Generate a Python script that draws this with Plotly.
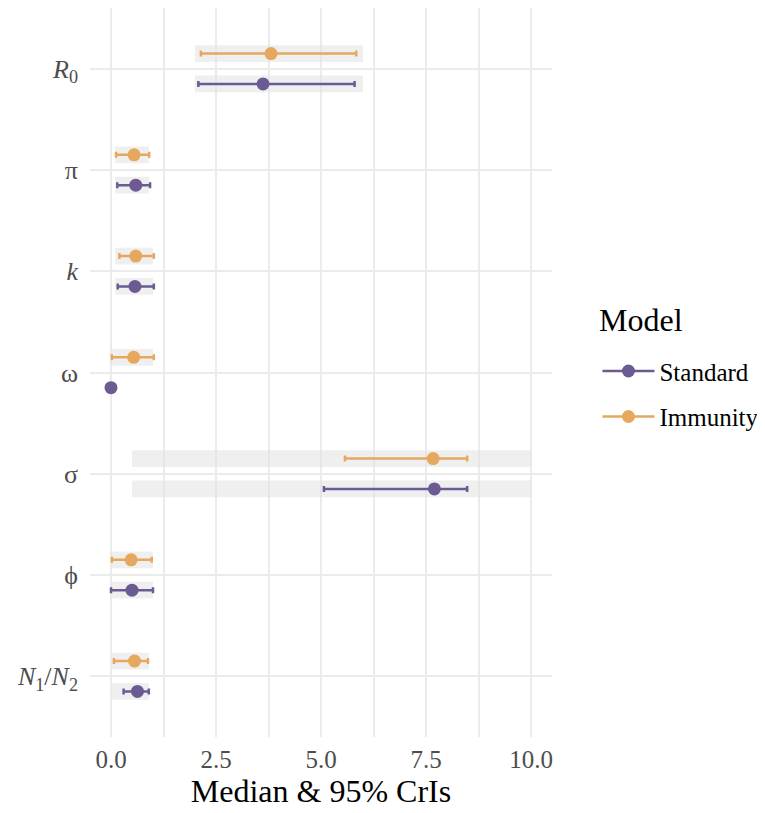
import plotly.graph_objects as go

# ---- data ----
params = ["<i>R</i><sub>0</sub>", "π", "<i>k</i>", "ω", "σ", "ϕ",
          "<i>N</i><sub>1</sub>/<i>N</i><sub>2</sub>"]
models = ["Standard", "Immunity"]

std_med = [3.62, 0.59, 0.57, 0.00, 7.70, 0.50, 0.63]
std_lo  = [2.08, 0.15, 0.16, 0.00, 5.07, 0.00, 0.30]
std_hi  = [5.80, 0.93, 1.02, 0.00, 8.48, 1.00, 0.90]

imm_med = [3.81, 0.55, 0.59, 0.54, 7.67, 0.48, 0.56]
imm_lo  = [2.14, 0.12, 0.20, 0.02, 5.57, 0.02, 0.07]
imm_hi  = [5.84, 0.91, 1.02, 1.02, 8.48, 0.97, 0.88]

# prior ranges (grey bands)
std_prior_lo = [2.0, 0.1, 0.1, None, 0.5, 0.0, 0.02]
std_prior_hi = [6.0, 0.9, 1.0, None, 10.0, 1.0, 0.9]
imm_prior_lo = [2.0, 0.1, 0.1, 0.0, 0.5, 0.0, 0.02]
imm_prior_hi = [6.0, 0.9, 1.0, 1.0, 10.0, 1.0, 0.9]

x_ticks = [0.0, 2.5, 5.0, 7.5, 10.0]
x_tick_labels = ["0.0", "2.5", "5.0", "7.5", "10.0"]

# ---- style ----
COL = {"Standard": "#6B5B92", "Immunity": "#E6A85E"}
FONT = "Liberation Serif"
n = len(params)
ypos = [n - i for i in range(n)]
dodge = {"Standard": -0.15, "Immunity": 0.15}

fig = go.Figure()

# grey prior bands
for m, plo, phi in [("Immunity", imm_prior_lo, imm_prior_hi),
                    ("Standard", std_prior_lo, std_prior_hi)]:
    ys, bases, widths = [], [], []
    for i in range(n):
        if plo[i] is None:
            continue
        ys.append(ypos[i] + dodge[m])
        bases.append(plo[i])
        widths.append(phi[i] - plo[i])
    fig.add_trace(go.Bar(
        y=ys, x=widths, base=bases, orientation="h", width=0.165,
        marker=dict(color="rgba(225,225,225,0.55)", line=dict(width=0)),
        showlegend=False, hoverinfo="skip"))

# estimates with CrIs
for m, med, lo, hi in [("Immunity", imm_med, imm_lo, imm_hi),
                       ("Standard", std_med, std_lo, std_hi)]:
    fig.add_trace(go.Scatter(
        x=med, y=[p + dodge[m] for p in ypos], mode="markers",
        marker=dict(color=COL[m], size=13),
        error_x=dict(type="data", symmetric=False,
                     array=[h - md for h, md in zip(hi, med)],
                     arrayminus=[md - l for md, l in zip(med, lo)],
                     color=COL[m], thickness=2.5, width=3),
        showlegend=False))

# legend entries
for m in models:
    fig.add_trace(go.Scatter(
        x=[None], y=[None], mode="lines+markers", name=m,
        line=dict(color=COL[m], width=2.5),
        marker=dict(color=COL[m], size=13),
        legendgroup=m))

fig.update_layout(
    width=757, height=805,
    margin=dict(l=82, r=211, t=0, b=76, pad=0),
    paper_bgcolor="white", plot_bgcolor="white",
    barmode="overlay",
    font=dict(family=FONT, color="#4D4D4D"),
    xaxis=dict(range=[-0.5, 10.5], tickvals=x_ticks, ticktext=x_tick_labels,
               automargin=False,
               showgrid=True, gridcolor="#EBEBEB", gridwidth=2,
               minor=dict(dtick=1.25, tick0=0, showgrid=True,
                          gridcolor="#EBEBEB", gridwidth=1.5),
               zeroline=False, showline=False, ticks="",
               ticklabelstandoff=5,
               tickfont=dict(size=25, color="#4D4D4D", family=FONT),
               title=dict(text="Median & 95% CrIs",
                          font=dict(size=32, color="black", family=FONT),
                          standoff=4)),
    yaxis=dict(range=[0.4, n + 0.6], tickvals=ypos, ticktext=params,
               automargin=False,
               showgrid=True, gridcolor="#EBEBEB", gridwidth=2,
               zeroline=False, showline=False, ticks="",
               ticklabelstandoff=11,
               tickfont=dict(size=26, color="#4D4D4D", family=FONT)),
    legend=dict(x=1.0984, y=0.5333, xanchor="left", yanchor="top",
                font=dict(size=25, color="black", family=FONT),
                itemwidth=52,
                tracegroupgap=10, bgcolor="rgba(0,0,0,0)"),
    annotations=[dict(text="Model", xref="paper", yref="paper",
                      x=1.098, y=0.5717, xanchor="left", yanchor="middle",
                      showarrow=False,
                      font=dict(size=32, color="black", family=FONT))],
)

fig.write_html("out.html")
